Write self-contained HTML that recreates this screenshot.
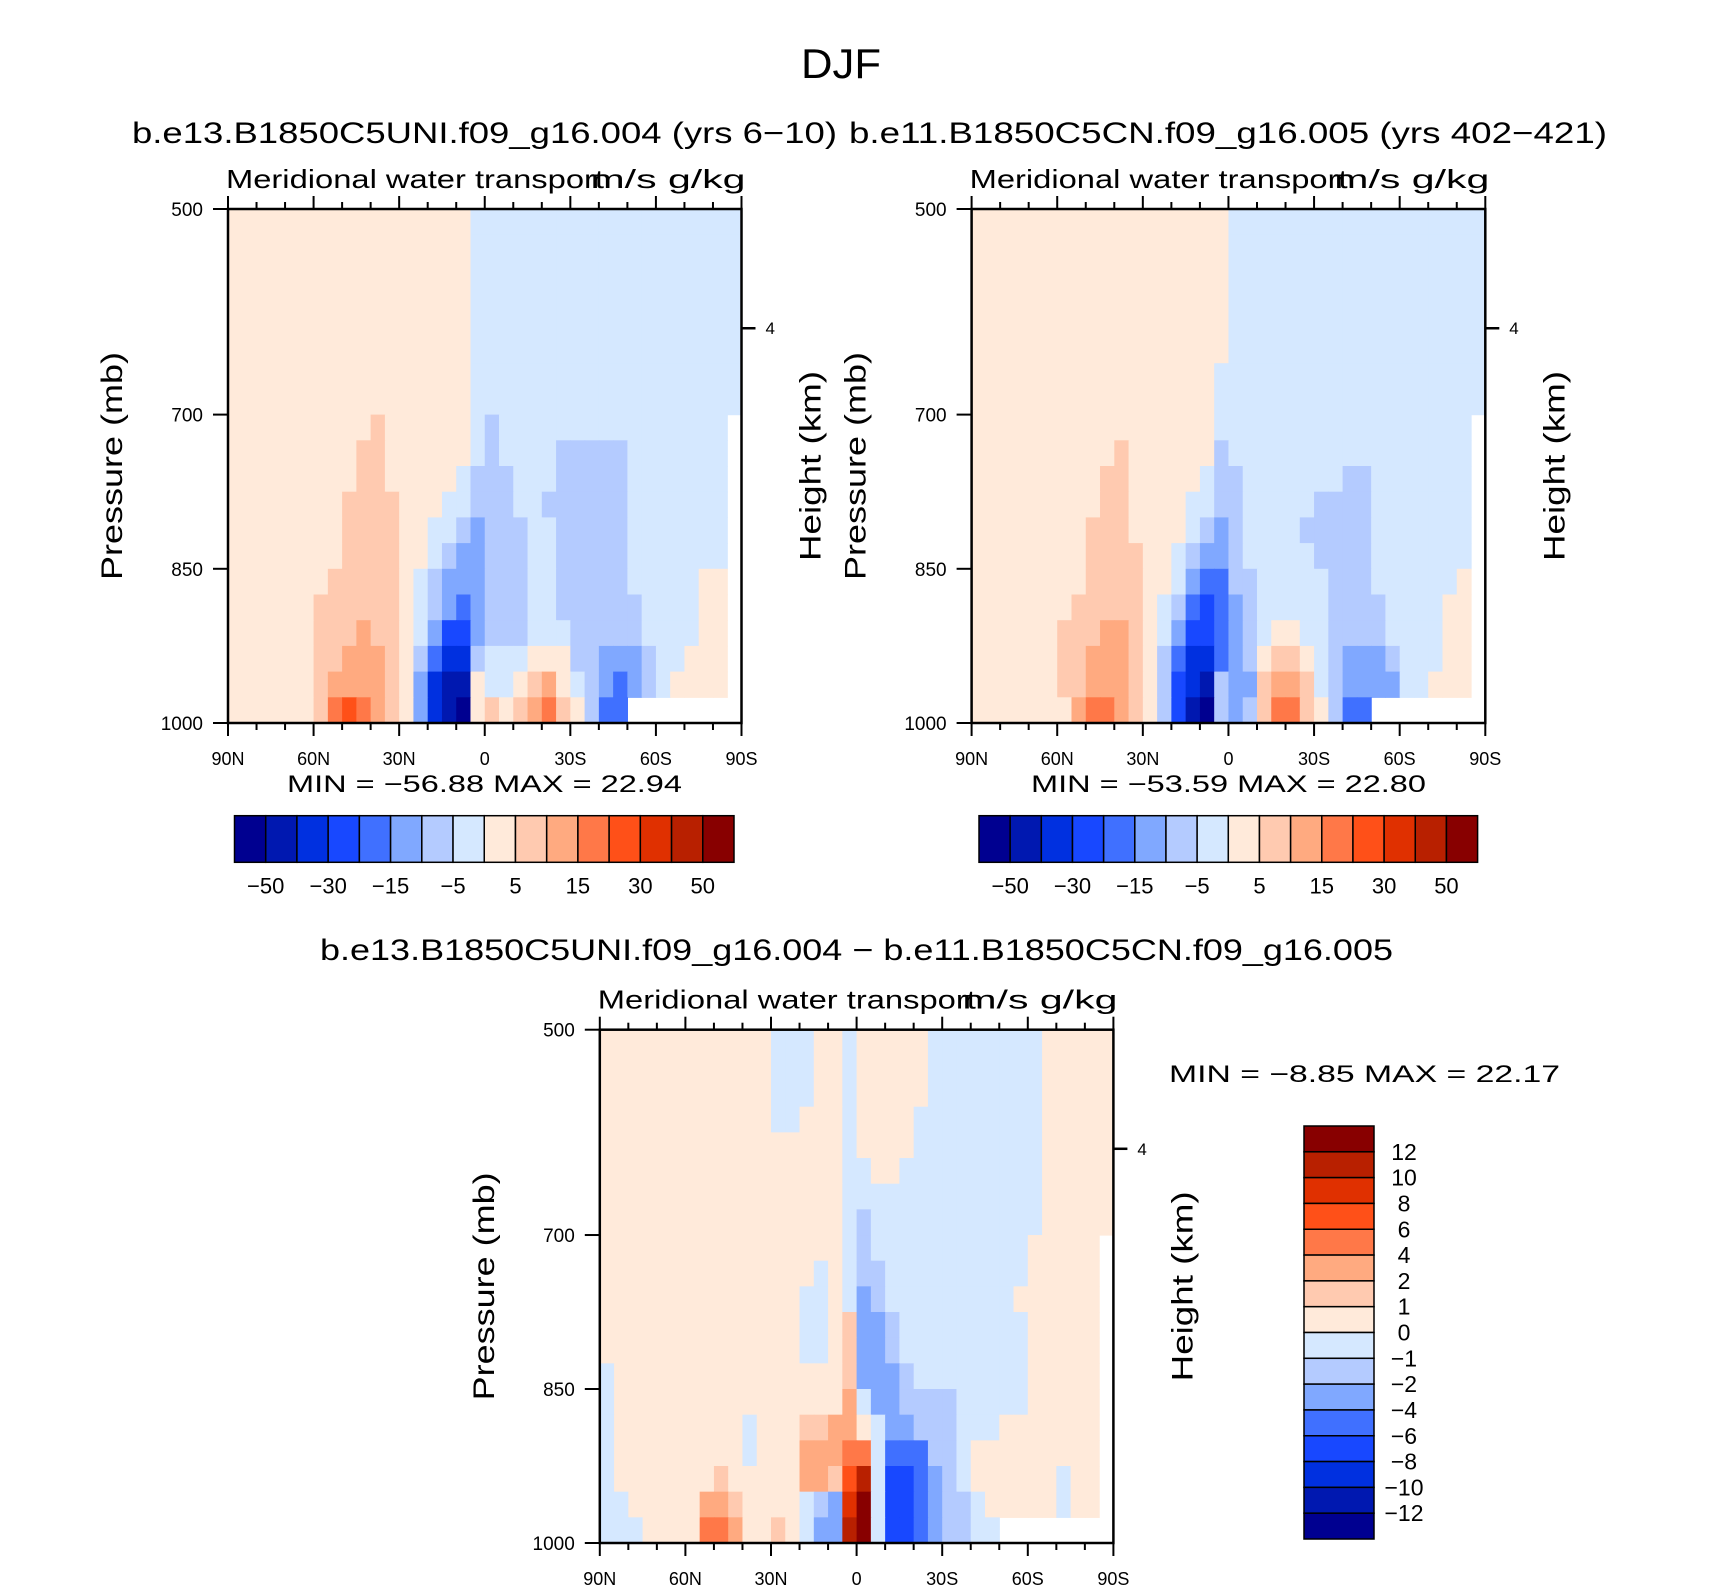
<!DOCTYPE html>
<html><head><meta charset="utf-8"><title>DJF Meridional water transport</title>
<style>
html,body{margin:0;padding:0;background:#fff;}
svg{display:block;font-family:"Liberation Sans","DejaVu Sans",sans-serif;}
</style></head>
<body>
<svg id="fig" width="1710" height="1591" viewBox="0 0 1710 1591" xmlns="http://www.w3.org/2000/svg">
<rect x="0" y="0" width="1710" height="1591" fill="#fff"/>
<text x="841" y="78" font-size="42" text-anchor="middle" textLength="80" lengthAdjust="spacingAndGlyphs">DJF</text>
<text x="132" y="143" font-size="30" textLength="705" lengthAdjust="spacingAndGlyphs">b.e13.B1850C5UNI.f09_g16.004 (yrs 6−10)</text>
<text x="849" y="143" font-size="30" textLength="758" lengthAdjust="spacingAndGlyphs">b.e11.B1850C5CN.f09_g16.005 (yrs 402−421)</text>
<text x="320" y="960" font-size="30" textLength="1073" lengthAdjust="spacingAndGlyphs">b.e13.B1850C5UNI.f09_g16.004 − b.e11.B1850C5CN.f09_g16.005</text>
<g id="panels"></g>
</svg>
<script>
// ---- data: colour levels ----
const levelsAbs = [-50,-40,-30,-20,-15,-10,-5,0,5,10,15,20,30,40,50];
const levelsDiff = [-12,-10,-8,-6,-4,-2,-1,0,1,2,4,6,8,10,12];
const fillColors = ["#000090","#0018B0","#0030E0","#1848FF","#4070FF","#80A8FF","#B4CBFF","#D5E8FF","#FFEADA","#FFCAB0","#FFAA80","#FF7848","#FF5018","#E03000","#B82000","#880000"];
const latEdges = [90,85,80,75,70,65,60,55,50,45,40,35,30,25,20,15,10,5,0,-5,-10,-15,-20,-25,-30,-35,-40,-45,-50,-55,-60,-65,-70,-75,-80,-85,-90];
const presEdges = [500,525,550,575,600,625,650,675,700,725,750,775,800,825,850,875,900,925,950,975,1000];
const xTickLabels = ["90N","60N","30N","0","30S","60S","90S"];
const xTickLats = [90,60,30,0,-30,-60,-90];
const yTickValues = [500,700,850,1000];
const heightTickP = [616];
const heightTickLabels = ["4"];
// rows of [value,count] runs, top (500mb) to bottom (1000mb), 90N -> 90S ; null = missing
const N = null;
const gridCase1 = [
 [[2,17],[-2,19]],[[2,17],[-2,19]],[[2,17],[-2,19]],[[2,17],[-2,19]],
 [[2,17],[-2,19]],[[2,17],[-2,19]],[[2,17],[-2,19]],[[2,17],[-2,19]],
 [[2,10],[7,1],[2,6],[-2,1],[-7,1],[-2,16],[N,1]],
 [[2,9],[7,2],[2,6],[-2,1],[-7,1],[-2,4],[-7,5],[-2,7],[N,1]],
 [[2,9],[7,2],[2,5],[-2,1],[-7,3],[-2,3],[-7,5],[-2,7],[N,1]],
 [[2,8],[7,4],[2,3],[-2,2],[-7,3],[-2,2],[-7,6],[-2,7],[N,1]],
 [[2,8],[7,4],[2,2],[-2,2],[-7,1],[-12,1],[-7,3],[-2,2],[-7,5],[-2,7],[N,1]],
 [[2,8],[7,4],[2,2],[-2,1],[-7,1],[-12,2],[-7,3],[-2,2],[-7,5],[-2,7],[N,1]],
 [[2,7],[7,5],[2,1],[-2,1],[-7,1],[-12,3],[-7,3],[-2,2],[-7,5],[-2,5],[2,2],[N,1]],
 [[2,6],[7,6],[2,1],[-2,1],[-7,1],[-12,1],[-17,1],[-12,1],[-7,3],[-2,2],[-7,6],[-2,4],[2,2],[N,1]],
 [[2,6],[7,3],[12,1],[7,2],[2,1],[-2,1],[-12,1],[-25,2],[-12,1],[-7,3],[-2,3],[-7,5],[-2,4],[2,2],[N,1]],
 [[2,6],[7,2],[12,3],[7,1],[2,1],[-7,1],[-17,1],[-35,2],[-7,1],[-2,3],[2,3],[-7,2],[-12,3],[-7,1],[-2,2],[2,3],[N,1]],
 [[2,6],[7,1],[12,4],[7,1],[2,1],[-12,1],[-35,1],[-45,2],[2,1],[-2,2],[2,1],[7,1],[12,1],[2,1],[-2,1],[-7,1],[-12,1],[-17,1],[-12,1],[-7,1],[-2,1],[2,4],[N,1]],
 [[2,6],[7,1],[17,1],[25,1],[17,1],[12,1],[7,1],[2,1],[-12,1],[-35,1],[-45,1],[-55,1],[2,1],[7,1],[2,1],[7,1],[12,1],[17,1],[7,1],[2,1],[-7,1],[-17,2],[N,8]]
];
const gridCase2 = [
 [[2,18],[-2,18]],[[2,18],[-2,18]],[[2,18],[-2,18]],[[2,18],[-2,18]],
 [[2,18],[-2,18]],[[2,18],[-2,18]],[[2,17],[-2,19]],[[2,17],[-2,19]],
 [[2,17],[-2,18],[N,1]],
 [[2,10],[7,1],[2,6],[-7,1],[-2,17],[N,1]],
 [[2,9],[7,2],[2,5],[-2,1],[-7,2],[-2,7],[-7,2],[-2,7],[N,1]],
 [[2,9],[7,2],[2,4],[-2,2],[-7,2],[-2,5],[-7,4],[-2,7],[N,1]],
 [[2,8],[7,3],[2,4],[-2,1],[-7,1],[-12,1],[-7,1],[-2,4],[-7,5],[-2,7],[N,1]],
 [[2,8],[7,4],[2,2],[-2,1],[-7,1],[-12,2],[-7,1],[-2,5],[-7,4],[-2,7],[N,1]],
 [[2,8],[7,4],[2,2],[-2,1],[-12,1],[-17,2],[-7,2],[-2,5],[-7,3],[-2,6],[2,1],[N,1]],
 [[2,7],[7,5],[2,1],[-2,1],[-7,1],[-17,1],[-25,1],[-17,1],[-12,1],[-7,1],[-2,5],[-7,4],[-2,4],[2,2],[N,1]],
 [[2,6],[7,3],[12,2],[7,1],[2,1],[-2,1],[-12,1],[-25,2],[-17,1],[-12,1],[-7,1],[-2,1],[2,2],[-2,2],[-7,4],[-2,4],[2,2],[N,1]],
 [[2,6],[7,2],[12,3],[7,1],[2,1],[-7,1],[-17,1],[-35,2],[-17,1],[-12,1],[-7,1],[2,1],[7,2],[2,1],[-2,1],[-7,1],[-12,3],[-7,1],[-2,3],[2,2],[N,1]],
 [[2,6],[7,2],[12,3],[7,1],[2,1],[-7,1],[-25,1],[-35,1],[-45,1],[-7,1],[-12,2],[7,1],[12,2],[7,1],[-2,1],[-7,1],[-12,4],[-2,2],[2,3],[N,1]],
 [[2,7],[12,1],[17,2],[12,1],[7,1],[2,1],[-7,1],[-25,1],[-45,1],[-55,1],[-7,1],[-12,1],[-7,1],[7,1],[17,2],[7,1],[2,1],[-7,1],[-17,2],[N,8]]
];
const gridDiff = [
 [[0.5,12],[-0.5,3],[0.5,2],[-0.5,1],[0.5,5],[-0.5,8],[0.5,5]],
 [[0.5,12],[-0.5,3],[0.5,2],[-0.5,1],[0.5,5],[-0.5,8],[0.5,5]],
 [[0.5,12],[-0.5,3],[0.5,2],[-0.5,1],[0.5,5],[-0.5,8],[0.5,5]],
 [[0.5,12],[-0.5,2],[0.5,3],[-0.5,1],[0.5,4],[-0.5,9],[0.5,5]],
 [[0.5,17],[-0.5,1],[0.5,4],[-0.5,9],[0.5,5]],
 [[0.5,17],[-0.5,2],[0.5,2],[-0.5,10],[0.5,5]],
 [[0.5,17],[-0.5,14],[0.5,5]],
 [[0.5,17],[-0.5,1],[-1.5,1],[-0.5,12],[0.5,5]],
 [[0.5,17],[-0.5,1],[-1.5,1],[-0.5,11],[0.5,5],[N,1]],
 [[0.5,15],[-0.5,1],[0.5,1],[-0.5,1],[-1.5,2],[-0.5,10],[0.5,5],[N,1]],
 [[0.5,14],[-0.5,2],[0.5,1],[-0.5,1],[-3,1],[-1.5,1],[-0.5,9],[0.5,6],[N,1]],
 [[0.5,14],[-0.5,2],[0.5,1],[1.5,1],[-3,2],[-1.5,1],[-0.5,9],[0.5,5],[N,1]],
 [[0.5,14],[-0.5,2],[0.5,1],[1.5,1],[-3,2],[-1.5,1],[-0.5,9],[0.5,5],[N,1]],
 [[-0.5,1],[0.5,16],[1.5,1],[-3,3],[-1.5,1],[-0.5,8],[0.5,5],[N,1]],
 [[-0.5,1],[0.5,16],[3,1],[-0.5,1],[-3,2],[-1.5,4],[-0.5,5],[0.5,5],[N,1]],
 [[-0.5,1],[0.5,9],[-0.5,1],[0.5,3],[1.5,2],[3,2],[0.5,1],[-0.5,1],[-3,2],[-1.5,3],[-0.5,3],[0.5,7],[N,1]],
 [[-0.5,1],[0.5,9],[-0.5,1],[0.5,3],[3,3],[5,2],[-0.5,1],[-5,3],[-1.5,2],[-0.5,1],[0.5,9],[N,1]],
 [[-0.5,1],[0.5,7],[1.5,1],[0.5,5],[3,2],[1.5,1],[7,1],[11,1],[-0.5,1],[-7,2],[-5,1],[-3,1],[-1.5,1],[-0.5,1],[0.5,6],[-0.5,1],[0.5,2],[N,1]],
 [[-0.5,2],[0.5,5],[3,2],[1.5,1],[0.5,4],[-0.5,1],[-1.5,1],[-3,1],[9,1],[13,1],[-0.5,1],[-7,2],[-5,1],[-3,1],[-1.5,2],[-0.5,1],[0.5,5],[-0.5,1],[0.5,2],[N,1]],
 [[-0.5,3],[0.5,4],[5,2],[3,1],[0.5,2],[1.5,1],[0.5,1],[-0.5,1],[-3,2],[11,1],[13,1],[-0.5,1],[-7,2],[-5,1],[-3,1],[-1.5,2],[-0.5,2],[N,8]]
];
const colorbarAbsLabels = ["−50","−30","−15","−5","5","15","30","50"];
const colorbarDiffLabels = ["12","10","8","6","4","2","1","0","−1","−2","−4","−6","−8","−10","−12"];

const NS = "http://www.w3.org/2000/svg";
const root = document.getElementById("panels");
function mk(tag, attrs, parent){
  const e = document.createElementNS(NS, tag);
  for (const k in attrs) e.setAttribute(k, attrs[k]);
  (parent||root).appendChild(e);
  return e;
}
function expand(row){ const out=[]; row.forEach(r=>{ for(let i=0;i<r[1];i++) out.push(r[0]); }); return out; }
function colorFor(v, levels){ let k=0; while(k<levels.length && v>levels[k]) k++; return fillColors[k]; }

function drawPanel(id, grid, levels, L, T, W, H, heading){
  const g = mk("g", {});
  
  
  const xS = lat => L + (90 - lat) / 180 * W;
  const yS = p => T + (p - 500) / 500 * H;
  grid.forEach((row, r) => {
    const vals = expand(row);
    vals.forEach((v, c) => {
      if (v === null) return;
      const x0 = xS(latEdges[c]), x1 = xS(latEdges[c+1]);
      const y0 = yS(presEdges[r]), y1 = yS(presEdges[r+1]);
      const cell = mk("rect", {x:x0, y:y0, width:x1-x0+0.6, height:y1-y0+0.6, fill:colorFor(v, levels)}, g);
      
      
    });
  });
  const frame = mk("rect", {x:L, y:T, width:W, height:H, fill:"none", stroke:"#000", "stroke-width":2.5}, g);
  
  
  // x ticks
  for (let lat = 90; lat >= -90; lat -= 10) {
    const major = lat % 30 === 0;
    const len = major ? 13 : 7;
    const x = xS(lat);
    const t1 = mk("line", {x1:x, y1:T, x2:x, y2:T-len, stroke:"#000", "stroke-width":2}, g);
    
    
    const t2 = mk("line", {x1:x, y1:T+H, x2:x, y2:T+H+len, stroke:"#000", "stroke-width":2}, g);
    
    
  }
  xTickLats.forEach((lat, i) => {
    const t = mk("text", {x:xS(lat), y:T+H+42, "font-size":18, "text-anchor":"middle"}, g);
    t.textContent = xTickLabels[i];
    
    
  });
  yTickValues.forEach(p => {
    const y = yS(p);
    const tk = mk("line", {x1:L, y1:y, x2:L-15, y2:y, stroke:"#000", "stroke-width":2}, g);
    
    
    const t = mk("text", {x:L-25, y:y+7, "font-size":19, "text-anchor":"end"}, g);
    t.textContent = String(p);
    
    
  });
  heightTickP.forEach((p, i) => {
    const y = yS(p);
    const tk = mk("line", {x1:L+W, y1:y, x2:L+W+14, y2:y, stroke:"#000", "stroke-width":2.5}, g);
    
    
    const t = mk("text", {x:L+W+24, y:y+6, "font-size":17}, g);
    t.textContent = heightTickLabels[i];
    
    
  });
  const lt = mk("text", {x:L-2, y:T-21, "font-size":26, textLength:378, lengthAdjust:"spacingAndGlyphs"}, g);
  lt.textContent = "Meridional water transport";
  
  
  const rt = mk("text", {x:L+W+4, y:T-21, "font-size":26, "text-anchor":"end", textLength:155, lengthAdjust:"spacingAndGlyphs"}, g);
  rt.textContent = "m/s g/kg";
  
  
  const cy = T + H * 0.5;
  const px = L - 106;
  const pl = mk("text", {x:px, y:cy, "font-size":30, "text-anchor":"middle", transform:`rotate(-90 ${px} ${cy})`, textLength:228, lengthAdjust:"spacingAndGlyphs"}, g);
  pl.textContent = "Pressure (mb)";
  
  
  const hx = L + W + 79;
  const hl = mk("text", {x:hx, y:cy, "font-size":30, "text-anchor":"middle", transform:`rotate(-90 ${hx} ${cy})`, textLength:190, lengthAdjust:"spacingAndGlyphs"}, g);
  hl.textContent = "Height (km)";
  
  
}

function hColorbar(L, T, W, Hh, labels){
  const g = mk("g", {});
  
  
  const bw = W / fillColors.length;
  fillColors.forEach((c, i) => {
    const b = mk("rect", {x:L+i*bw, y:T, width:bw, height:Hh, fill:c, stroke:"#000", "stroke-width":1.5}, g);
    
    
  });
  labels.forEach((s, j) => {
    const t = mk("text", {x:L+(2*j+1)*bw, y:T+Hh+31, "font-size":22, "text-anchor":"middle"}, g);
    t.textContent = s;
    
    
  });
}
function vColorbar(L, T, W, H, labels){
  const g = mk("g", {});
  
  
  const bh = H / fillColors.length;
  for (let k = 0; k < fillColors.length; k++) {
    const b = mk("rect", {x:L, y:T+k*bh, width:W, height:bh, fill:fillColors[fillColors.length-1-k], stroke:"#000", "stroke-width":1.5}, g);
    
    
  }
  labels.forEach((s, j) => {
    const t = mk("text", {x:L+100, y:T+(j+1)*bh+8, "font-size":23, "text-anchor":"middle"}, g);
    t.textContent = s;
    
    
  });
}
function label(x, y, s, name, size, len){
  const t = mk("text", {x:x, y:y, "font-size":size, textLength:len, lengthAdjust:"spacingAndGlyphs"});
  t.textContent = s;
  
  
}

drawPanel("panel1", gridCase1, levelsAbs, 228, 209, 513.5, 514);
drawPanel("panel2", gridCase2, levelsAbs, 971.6, 209, 513.7, 514);
drawPanel("panel3", gridDiff, levelsDiff, 599.8, 1029.7, 513.6, 513.3);
label(287, 792, "MIN =  −56.88   MAX =   22.94", "panel1-minmax", 24, 395);
label(1031, 792, "MIN =  −53.59   MAX =   22.80", "panel2-minmax", 24, 395);
label(1169, 1082, "MIN =   −8.85   MAX =   22.17", "panel3-minmax", 24, 391);
hColorbar(234.5, 815.7, 499.5, 46.6, colorbarAbsLabels);
hColorbar(979, 815.7, 498.6, 46.6, colorbarAbsLabels);
vColorbar(1304, 1126, 70, 413, colorbarDiffLabels);
</script>
</body></html>
